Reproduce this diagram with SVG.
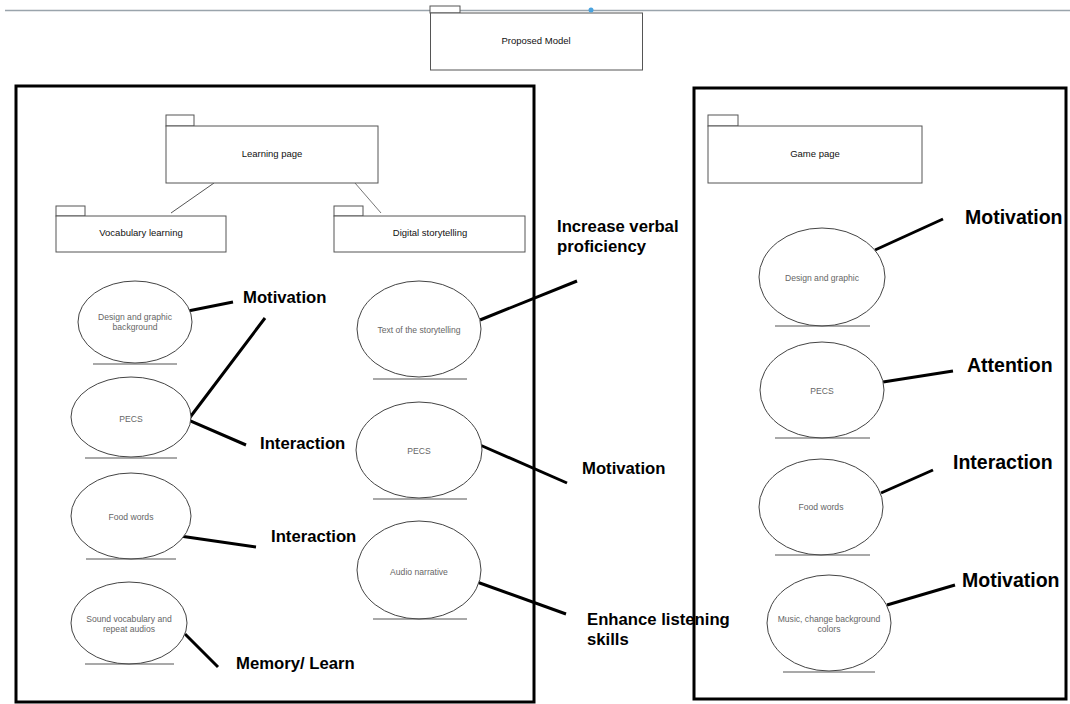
<svg xmlns="http://www.w3.org/2000/svg" width="1070" height="704" viewBox="0 0 1070 704">
<style>
.pkg{fill:#fff;stroke:#555;stroke-width:1}
.pt{font-family:"Liberation Sans",Arial,sans-serif;font-size:9.5px;fill:#111;text-anchor:middle}
.el{fill:#fff;stroke:#444;stroke-width:1}
.et{font-family:"Liberation Sans",Arial,sans-serif;font-size:8.6px;fill:#666;text-anchor:middle}
.ul{stroke:#555;stroke-width:1.2}
.lbl{font-family:"Liberation Sans",Arial,sans-serif;font-size:16.7px;font-weight:bold;fill:#000}
.big{font-size:19.5px}
.cn{stroke:#000;stroke-width:3;fill:none}
.panel{fill:none;stroke:#000;stroke-width:3}
</style>
<rect width="1070" height="704" fill="#fff"/>
<line x1="5" y1="10.5" x2="1070" y2="10.5" stroke="#9aa4ac" stroke-width="1.5"/>
<g id="proposed-model">
<rect x="430" y="6" width="30" height="7" class="pkg"/>
<rect x="430.5" y="13" width="212" height="57" class="pkg"/>
<circle cx="591" cy="10" r="2.5" fill="#4aa3df"/>
<text x="536" y="44" class="pt">Proposed Model</text>
</g>
<rect id="learning-panel" x="16" y="86" width="518" height="616" class="panel"/>
<rect id="game-panel" x="694" y="88" width="372" height="611" class="panel"/>
<g id="connectors">
<line x1="214" y1="183" x2="171" y2="213" stroke="#555" stroke-width="1"/>
<line x1="355" y1="183" x2="381" y2="213" stroke="#777" stroke-width="1"/>
<line x1="188" y1="311" x2="233" y2="302" class="cn"/>
<polyline points="265,318 188,420 246,445" class="cn"/>
<line x1="180" y1="536" x2="256" y2="547" class="cn"/>
<line x1="185" y1="634" x2="218" y2="667" class="cn"/>
<line x1="480" y1="320" x2="577" y2="281" class="cn"/>
<line x1="480" y1="445" x2="567" y2="483" class="cn"/>
<line x1="477" y1="582" x2="566" y2="614" class="cn"/>
<line x1="875" y1="250" x2="943" y2="219" class="cn"/>
<line x1="883" y1="382" x2="953" y2="371" class="cn"/>
<line x1="881" y1="493" x2="933" y2="470" class="cn"/>
<line x1="887" y1="605" x2="955" y2="585" class="cn"/>
</g>
<g id="learning-page">
<rect x="166" y="115" width="28" height="11" class="pkg"/>
<rect x="166" y="126" width="212" height="57" class="pkg"/>
<text x="272" y="157" class="pt">Learning page</text>
</g>
<g id="vocabulary-learning">
<rect x="56" y="206" width="29" height="10" class="pkg"/>
<rect x="56" y="216" width="170" height="36" class="pkg"/>
<text x="141" y="236" class="pt">Vocabulary learning</text>
</g>
<g id="digital-storytelling">
<rect x="334" y="206" width="29" height="10" class="pkg"/>
<rect x="334" y="216" width="191" height="36" class="pkg"/>
<text x="430" y="236" class="pt">Digital storytelling</text>
</g>
<g id="game-page">
<rect x="708" y="115" width="30" height="11" class="pkg"/>
<rect x="708" y="126" width="214" height="57" class="pkg"/>
<text x="815" y="157" class="pt">Game page</text>
</g>
<g id="l-design">
<ellipse cx="135" cy="322" rx="57" ry="41" class="el"/>
<line x1="93" y1="364" x2="177" y2="364" class="ul"/>
<text x="135" y="320" class="et">Design and graphic</text>
<text x="135" y="330" class="et">background</text>
</g>
<g id="l-pecs">
<ellipse cx="131" cy="417" rx="60" ry="40" class="el"/>
<line x1="85" y1="458" x2="177" y2="458" class="ul"/>
<text x="131" y="422" class="et">PECS</text>
</g>
<g id="l-food">
<ellipse cx="131" cy="516" rx="60" ry="43" class="el"/>
<line x1="86" y1="559" x2="176" y2="559" class="ul"/>
<text x="131" y="520" class="et">Food words</text>
</g>
<g id="l-sound">
<ellipse cx="129" cy="623" rx="58" ry="41" class="el"/>
<line x1="85" y1="664" x2="174" y2="664" class="ul"/>
<text x="129" y="622" class="et">Sound vocabulary and</text>
<text x="129" y="632" class="et">repeat audios</text>
</g>
<g id="m-text">
<ellipse cx="419" cy="329" rx="62" ry="48" class="el"/>
<line x1="373" y1="379" x2="467" y2="379" class="ul"/>
<text x="419" y="333" class="et">Text of the storytelling</text>
</g>
<g id="m-pecs">
<ellipse cx="419" cy="450" rx="63" ry="48" class="el"/>
<line x1="373" y1="499" x2="467" y2="499" class="ul"/>
<text x="419" y="454" class="et">PECS</text>
</g>
<g id="m-audio">
<ellipse cx="419" cy="570" rx="62" ry="49" class="el"/>
<line x1="373" y1="619" x2="467" y2="619" class="ul"/>
<text x="419" y="575" class="et">Audio narrative</text>
</g>
<g id="r-design">
<ellipse cx="822" cy="277" rx="63" ry="49" class="el"/>
<line x1="775" y1="326" x2="870" y2="326" class="ul"/>
<text x="822" y="281" class="et">Design and graphic</text>
</g>
<g id="r-pecs">
<ellipse cx="822" cy="390" rx="62" ry="48" class="el"/>
<line x1="775" y1="438" x2="870" y2="438" class="ul"/>
<text x="822" y="394" class="et">PECS</text>
</g>
<g id="r-food">
<ellipse cx="821" cy="507" rx="62" ry="48" class="el"/>
<line x1="775" y1="555" x2="870" y2="555" class="ul"/>
<text x="821" y="510" class="et">Food words</text>
</g>
<g id="r-music">
<ellipse cx="829" cy="623" rx="62" ry="48" class="el"/>
<line x1="783" y1="672" x2="875" y2="672" class="ul"/>
<text x="829" y="622" class="et">Music, change background</text>
<text x="829" y="632" class="et">colors</text>
</g>
<g id="labels">
<text x="243" y="303" class="lbl">Motivation</text>
<text x="260" y="449" class="lbl" font-size="17.4">Interaction</text>
<text x="271" y="542" class="lbl" font-size="17.4">Interaction</text>
<text x="236" y="669" class="lbl">Memory/ Learn</text>
<text x="557" y="232" class="lbl">Increase verbal</text>
<text x="557" y="252" class="lbl">proficiency</text>
<text x="582" y="474" class="lbl">Motivation</text>
<text x="587" y="625" class="lbl">Enhance listening</text>
<text x="587" y="645" class="lbl">skills</text>
<text x="965" y="224" class="lbl big" font-size="19.8">Motivation</text>
<text x="967" y="372" class="lbl big">Attention</text>
<text x="953" y="469" class="lbl big">Interaction</text>
<text x="962" y="587" class="lbl big" font-size="18.6">Motivation</text>
</g>
</svg>
